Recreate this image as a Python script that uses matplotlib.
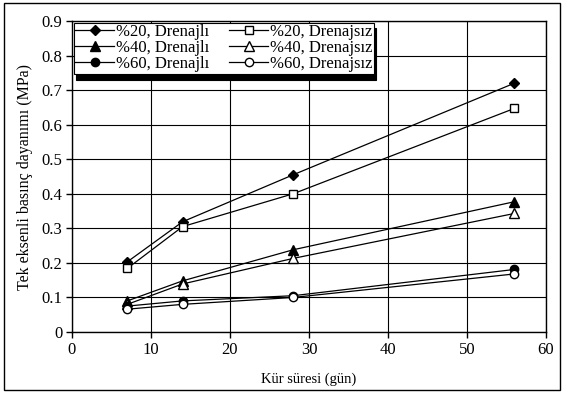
import matplotlib
matplotlib.use("Agg")
import matplotlib.pyplot as plt
from matplotlib.patches import Rectangle

plt.rcParams['font.family'] = ['Liberation Serif', 'DejaVu Serif']

days = [7, 14, 28, 56]
p20_dren = [0.203, 0.319, 0.455, 0.720]
p20_undr = [0.184, 0.305, 0.400, 0.647]
p40_dren = [0.090, 0.148, 0.238, 0.377]
p40_undr = [0.080, 0.139, 0.213, 0.343]
p60_dren = [0.075, 0.090, 0.105, 0.181]
p60_undr = [0.066, 0.080, 0.100, 0.168]

labels = ["%20, Drenajlı", "%20, Drenajsız", "%40, Drenajlı",
          "%40, Drenajsız", "%60, Drenajlı", "%60, Drenajsız"]
series = [p20_dren, p20_undr, p40_dren, p40_undr, p60_dren, p60_undr]
markers = ['D', 's', '^', '^', 'o', 'o']
filled = [True, False, True, False, True, False]
msizes = [5.5, 6, 7, 7, 6, 6]

fig = plt.figure(figsize=(5.63, 3.94), dpi=100)
ax = fig.add_axes([72/563, (394-332)/394, (546-72)/563, (332-21)/394])

handles = []
for s, m, f, ms, lab in zip(series, markers, filled, msizes, labels):
    h, = ax.plot(days, s, color='black', lw=0.9, marker=m, markersize=ms,
                 markerfacecolor='black' if f else 'white',
                 markeredgecolor='black', markeredgewidth=1.0, label=lab,
                 zorder=3)
    handles.append(h)

ax.set_xlim(0, 60)
ax.set_ylim(0, 0.9)
ax.set_xticks(range(0, 61, 10))
ax.set_yticks([i/10 for i in range(10)])
ax.set_yticklabels(['0'] + [f'{i/10:.1f}' for i in range(1, 10)])
ax.grid(True, color='black', lw=0.8)
ax.set_axisbelow(True)
for sp in ax.spines.values():
    sp.set_linewidth(1.0)
ax.tick_params(direction='out', length=4, width=1.0, labelsize=12,
               colors='black', pad=3)
ax.set_xlabel('Kür süresi (gün)', fontsize=10.5, labelpad=11)
ax.set_ylabel('Tek eksenli basınç dayanımı (MPa)', fontsize=11.5, labelpad=6)

order = [0, 2, 4, 1, 3, 5]
leg = ax.legend([handles[i] for i in order], [labels[i] for i in order],
                ncol=2, loc='upper left', bbox_to_anchor=(0.0, 1.0),
                fontsize=12, frameon=True, fancybox=False,
                shadow={'color': 'black', 'alpha': 1, 'ox': 1.5, 'oy': -4},
                borderpad=0.1, labelspacing=0.0, handlelength=2.3,
                handletextpad=0.15, columnspacing=1.2, borderaxespad=0.1)
leg.get_frame().set_edgecolor('black')
leg.get_frame().set_linewidth(0.8)

fig.patches.append(Rectangle((4/563, 4/394), 556/563, 387/394,
                             transform=fig.transFigure, fill=False,
                             edgecolor='black', lw=1.0))

fig.savefig('out.png', dpi=100)
